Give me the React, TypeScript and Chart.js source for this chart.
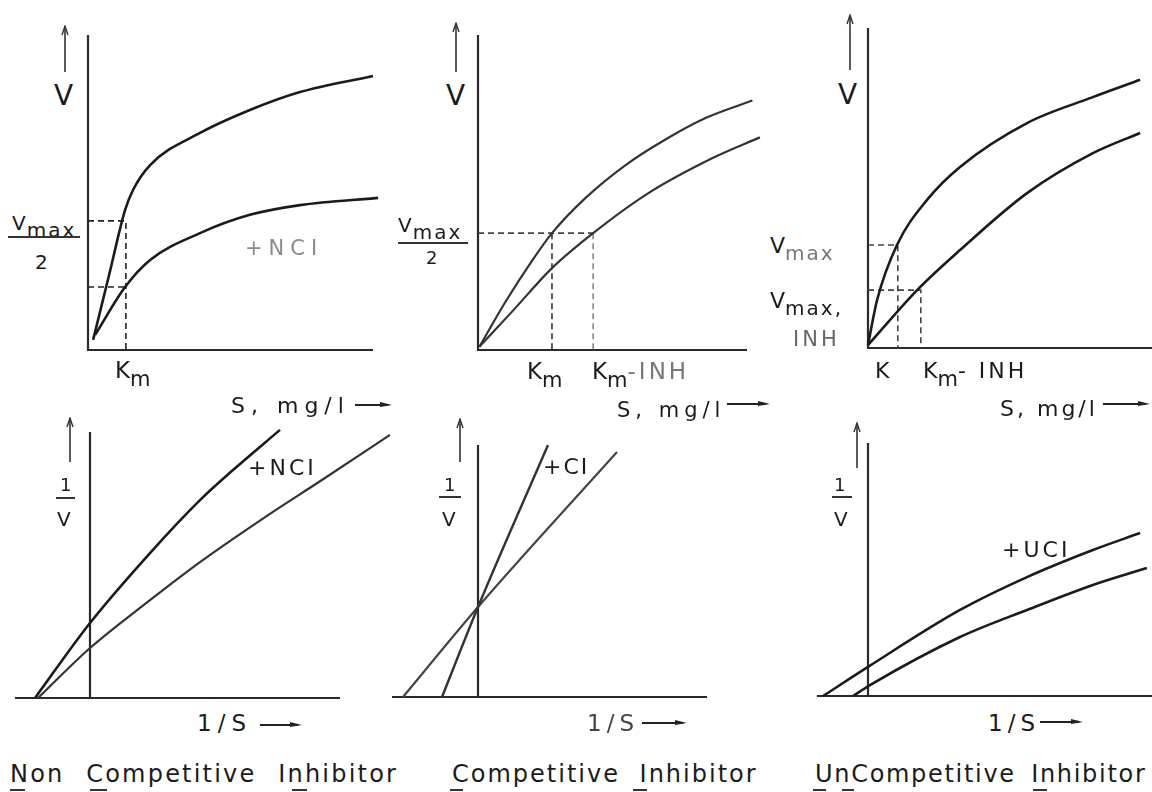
import React, { useEffect, useRef } from "react";
import { Chart, registerables } from "chart.js";

Chart.register(...registerables);

// ================= DATA (arbitrary units, axis length = 10) =================
// 1. Non-competitive inhibition, V vs S
const ncS = [0.18, 0.74, 1.3, 1.58, 2.18, 3.93, 5.68, 7.44, 10.0];
const ncV = [0.32, 2.38, 4.44, 5.08, 5.87, 6.89, 7.62, 8.19, 8.7];
const ncInhS = [0.25, 1.3, 2.18, 3.93, 5.68, 7.44, 10.18];
const ncInhV = [0.48, 2.0, 2.86, 3.71, 4.29, 4.6, 4.83];
const ncKm = 1.33;
const ncHalfVmax = [4.1, 2.0];

// 2. Competitive inhibition, V vs S
const ciS = [0.05, 1.0, 2.0, 2.75, 4.0, 5.5, 7.0, 8.5, 10.2];
const ciV = [0.1, 1.5, 2.82, 3.71, 4.83, 5.88, 6.7, 7.38, 7.92];
const ciInhS = [0.05, 1.3, 2.75, 4.28, 6.28, 8.74, 10.48];
const ciInhV = [0.1, 1.25, 2.6, 3.71, 4.95, 6.1, 6.75];
const ciKm = [2.75, 4.28];
const ciHalfVmax = 3.71;

// 3. Uncompetitive inhibition, V vs S
const ucS = [0, 0.32, 1.02, 2.08, 3.24, 5.6, 7.92, 9.58];
const ucV = [0.09, 1.5, 3.22, 4.63, 5.66, 7.03, 7.84, 8.38];
const ucInhS = [0, 1.73, 3.24, 5.6, 7.92, 9.58];
const ucInhV = [0.09, 1.81, 3.06, 4.84, 6.09, 6.72];
const ucK = [1.05, 1.86];
const ucVmarks = [3.22, 1.81];

// 4. Non-competitive, double reciprocal (1/V vs 1/S)
const ncLbInhX = [-2.2, 0, 2.4, 4.4, 5.72, 7.6];
const ncLbInhY = [0, 2.82, 5.45, 7.44, 8.57, 10.08];
const ncLbX = [-2.08, 0, 2.4, 4.4, 7.08, 9.2, 12.0];
const ncLbY = [0, 1.88, 3.68, 5.11, 6.85, 8.15, 9.89];

// 5. Competitive, double reciprocal
const ciLbInhX = [-1.44, 0, 2.8];
const ciLbInhY = [0, 3.57, 10.0];
const ciLbX = [-3.0, 0, 5.56];
const ciLbY = [0, 3.57, 9.72];

// 6. Uncompetitive, double reciprocal
const ucLbInhX = [-1.58, 0, 3.24, 5.6, 7.92, 9.58];
const ucLbInhY = [0, 1.15, 3.4, 4.7, 5.77, 6.44];
const ucLbX = [-0.53, 0.07, 3.24, 5.6, 7.92, 9.82];
const ucLbY = [0, 0.43, 2.33, 3.4, 4.39, 5.06];

// ================= helpers =================
const INK = "#1b1b1b";
const pts = (xs: number[], ys: number[]) => xs.map((x, i) => ({ x, y: ys[i] }));
const curve = (xs: number[], ys: number[], color = INK, width = 2.6) => ({
  data: pts(xs, ys),
  borderColor: color,
  borderWidth: width,
  pointRadius: 0,
  cubicInterpolationMode: "monotone",
  fill: false,
});
const dashed = (p: { x: number; y: number }[], color = "#222") => ({
  data: p,
  borderColor: color,
  borderWidth: 1.6,
  borderDash: [6, 4],
  pointRadius: 0,
  tension: 0,
  fill: false,
});

const axisPlugin = {
  id: "crossAxes",
  beforeDatasetsDraw(chart: any, _a: any, opts: any) {
    const { ctx, scales } = chart;
    const x = scales.x, y = scales.y;
    const x0 = x.getPixelForValue(0);
    const y0 = y.getPixelForValue(0);
    ctx.save();
    ctx.strokeStyle = opts.color || "#2a2a2a";
    ctx.lineWidth = opts.width || 2.2;
    ctx.beginPath();
    ctx.moveTo(x.getPixelForValue(opts.xFrom), y0);
    ctx.lineTo(x.getPixelForValue(opts.xTo), y0);
    ctx.moveTo(x0, y0 + 1);
    ctx.lineTo(x0, y.getPixelForValue(opts.yTo));
    ctx.stroke();
    ctx.restore();
  },
};

type Rect = { left: number; top: number; width: number; height: number };

function Panel(props: {
  rect: Rect;
  origin: [number, number];
  unit: [number, number];
  axisX: [number, number];
  axisY: number;
  datasets: any[];
}) {
  const ref = useRef<HTMLCanvasElement>(null);
  useEffect(() => {
    const { rect, origin, unit, axisX, axisY, datasets } = props;
    const xMin = (rect.left - origin[0]) / unit[0];
    const xMax = (rect.left + rect.width - origin[0]) / unit[0];
    const yMax = (origin[1] - rect.top) / unit[1];
    const yMin = (origin[1] - rect.top - rect.height) / unit[1];
    const chart = new Chart(ref.current as HTMLCanvasElement, {
      type: "line",
      data: { datasets },
      options: {
        animation: false,
        responsive: false,
        maintainAspectRatio: false,
        events: [],
        layout: { padding: 0 },
        scales: {
          x: { type: "linear", display: false, min: xMin, max: xMax },
          y: { type: "linear", display: false, min: yMin, max: yMax },
        },
        plugins: {
          legend: { display: false },
          tooltip: { enabled: false },
          crossAxes: { xFrom: axisX[0], xTo: axisX[1], yTo: axisY },
        } as any,
      },
      plugins: [axisPlugin],
    } as any);
    return () => chart.destroy();
  }, []);
  const r = props.rect;
  return (
    <canvas
      ref={ref}
      width={r.width}
      height={r.height}
      style={{ position: "absolute", left: r.left, top: r.top, width: r.width, height: r.height }}
    />
  );
}

// text placed by cap-top
function T(p: { x: number; y: number; s: number; c?: string; ls?: number; ws?: number; children: any }) {
  return (
    <div
      style={{
        position: "absolute",
        left: p.x,
        top: p.y - 0.117 * p.s,
        fontSize: p.s,
        lineHeight: 1,
        whiteSpace: "pre",
        color: p.c || INK,
        letterSpacing: p.ls ?? 0,
        wordSpacing: p.ws ?? 0,
      }}
    >
      {p.children}
    </div>
  );
}
const Sub = (p: { s: number; dy: number; c?: string; ls?: number; children: any }) => (
  <span style={{ fontSize: p.s, position: "relative", top: p.dy, color: p.c, letterSpacing: p.ls }}>{p.children}</span>
);

function UpArrow({ x, y1, y2 }: { x: number; y1: number; y2: number }) {
  const h = y2 - y1;
  return (
    <svg style={{ position: "absolute", left: x - 6, top: y1 }} width={12} height={h}>
      <line x1={6} y1={2} x2={6} y2={h} stroke="#333" strokeWidth={1.6} />
      <path d="M3,10 L6,1 L9,10" fill="none" stroke="#333" strokeWidth={1.4} />
    </svg>
  );
}
function RightArrow({ x1, x2, y }: { x1: number; x2: number; y: number }) {
  const w = x2 - x1;
  return (
    <svg style={{ position: "absolute", left: x1, top: y - 5 }} width={w} height={10}>
      <line x1={0} y1={5} x2={w - 4} y2={5} stroke="#222" strokeWidth={1.8} />
      <path d={`M${w - 12},2 L${w},5 L${w - 12},7 Z`} fill="#222" />
    </svg>
  );
}
function HLine({ x1, x2, y, w = 2 }: { x1: number; x2: number; y: number; w?: number }) {
  return <div style={{ position: "absolute", left: x1, top: y - w / 2, width: x2 - x1, height: w, background: "#333" }} />;
}

export default function App() {
  const p1 = [
    curve(ncS, ncV),
    curve(ncInhS, ncInhV),
    dashed([{ x: 0, y: ncHalfVmax[0] }, { x: ncKm, y: ncHalfVmax[0] }, { x: ncKm, y: 0 }]),
    dashed([{ x: 0, y: ncHalfVmax[1] }, { x: ncKm, y: ncHalfVmax[1] }]),
  ];
  const p2 = [
    curve(ciS, ciV, "#333", 2.2),
    curve(ciInhS, ciInhV, "#333", 2.2),
    dashed([{ x: 0, y: ciHalfVmax }, { x: ciKm[1], y: ciHalfVmax }], "#444"),
    dashed([{ x: ciKm[0], y: ciHalfVmax }, { x: ciKm[0], y: 0 }], "#333"),
    dashed([{ x: ciKm[1], y: ciHalfVmax }, { x: ciKm[1], y: 0 }], "#888"),
  ];
  const p3 = [
    curve(ucS, ucV),
    curve(ucInhS, ucInhV),
    dashed([{ x: 0, y: ucVmarks[0] }, { x: ucK[0], y: ucVmarks[0] }, { x: ucK[0], y: 0 }], "#444"),
    dashed([{ x: 0, y: ucVmarks[1] }, { x: ucK[1], y: ucVmarks[1] }, { x: ucK[1], y: 0 }], "#444"),
  ];
  const p4 = [curve(ncLbInhX, ncLbInhY, INK, 2.6), curve(ncLbX, ncLbY, "#333", 2.2)];
  const p5 = [curve(ciLbInhX, ciLbInhY, "#333", 2.4), curve(ciLbX, ciLbY, "#444", 2.2)];
  const p6 = [curve(ucLbInhX, ucLbInhY, INK, 2.6), curve(ucLbX, ucLbY, INK, 2.6)];

  const underlines: [number, number][] = [
    [10, 25], [90, 107], [292, 307], [450, 463], [633, 647], [813, 826], [842, 854], [1033, 1047],
  ];

  return (
    <div
      style={{
        position: "fixed",
        left: 0,
        top: 0,
        width: 1152,
        height: 792,
        background: "#fff",
        overflow: "hidden",
        fontFamily: '"DejaVu Sans", sans-serif',
        color: INK,
      }}
    >
      <Panel rect={{ left: 80, top: 20, width: 312, height: 345 }} origin={[88, 350]} unit={[28.5, 31.5]} axisX={[0, 10]} axisY={10} datasets={p1} />
      <Panel rect={{ left: 470, top: 20, width: 300, height: 345 }} origin={[478, 350]} unit={[26.9, 31.5]} axisX={[0, 10]} axisY={10} datasets={p2} />
      <Panel rect={{ left: 860, top: 15, width: 292, height: 345 }} origin={[868, 348]} unit={[28.4, 32]} axisX={[0, 10.2]} axisY={10} datasets={p3} />
      <Panel rect={{ left: 10, top: 425, width: 390, height: 285 }} origin={[90, 698]} unit={[25, 26.6]} axisX={[-3, 10]} axisY={10} datasets={p4} />
      <Panel rect={{ left: 385, top: 435, width: 340, height: 275 }} origin={[478, 697]} unit={[25, 25.2]} axisX={[-3.44, 9.16]} axisY={10} datasets={p5} />
      <Panel rect={{ left: 810, top: 435, width: 342, height: 275 }} origin={[868, 696]} unit={[28.4, 25.3]} axisX={[-1.8, 10.2]} axisY={10} datasets={p6} />

      {/* ---- Panel 1 labels ---- */}
      <UpArrow x={65} y1={25} y2={72} />
      <T x={54} y={85} s={28}>V</T>
      <T x={12} y={215} s={20} ls={1}>V<Sub s={20} dy={7} ls={2}>max</Sub></T>
      <HLine x1={8} x2={80} y={237} />
      <T x={35} y={254} s={20}>2</T>
      <T x={245} y={240} s={21} c="#8a8a8a" ls={6}>+NCI</T>
      <T x={115} y={362} s={23}>K<Sub s={21} dy={8}>m</Sub></T>
      <T x={231} y={398} s={22} ls={6}>S, mg/l</T>
      <RightArrow x1={355} x2={392} y={405} />

      {/* ---- Panel 2 labels ---- */}
      <UpArrow x={456} y1={22} y2={72} />
      <T x={446} y={85} s={28}>V</T>
      <T x={398} y={217} s={20} ls={1}>V<Sub s={20} dy={7} ls={2}>max</Sub></T>
      <HLine x1={398} x2={468} y={243} w={1.5} />
      <T x={426} y={251} s={18}>2</T>
      <T x={527} y={363} s={23}>K<Sub s={21} dy={8}>m</Sub></T>
      <T x={592} y={363} s={23}>K<Sub s={21} dy={8}>m</Sub><span style={{ color: "#777", letterSpacing: 3 }}>-INH</span></T>
      <T x={617} y={402} s={21} ls={5}>S, mg/l</T>
      <RightArrow x1={727} x2={770} y={404} />

      {/* ---- Panel 3 labels ---- */}
      <UpArrow x={850} y1={14} y2={70} />
      <T x={838} y={84} s={28}>V</T>
      <T x={770} y={238} s={22}>V<Sub s={20} dy={7} c="#777" ls={2}>max</Sub></T>
      <T x={770} y={293} s={22}>V<Sub s={20} dy={7} ls={2}>max,</Sub></T>
      <T x={793} y={331} s={21} c="#666" ls={3}>INH</T>
      <T x={875} y={363} s={22}>K</T>
      <T x={923} y={363} s={22}>K<Sub s={21} dy={8}>m</Sub><span style={{ letterSpacing: 3 }}>- INH</span></T>
      <T x={1000} y={401} s={22} ls={3}>S, mg/l</T>
      <RightArrow x1={1103} x2={1150} y={404} />

      {/* ---- Panel 4 labels ---- */}
      <UpArrow x={70} y1={417} y2={462} />
      <T x={60} y={478} s={18}>1</T>
      <HLine x1={56} x2={75} y={498} w={1.5} />
      <T x={57} y={511} s={20}>V</T>
      <T x={248} y={460} s={22} ls={3}>+NCI</T>
      <T x={197} y={715} s={23} ls={6}>1/S</T>
      <RightArrow x1={260} x2={302} y={725} />
      <T x={10} y={765} s={24} ls={2.2} ws={12}>Non Competitive Inhibitor</T>

      {/* ---- Panel 5 labels ---- */}
      <UpArrow x={460} y1={418} y2={462} />
      <T x={444} y={478} s={18}>1</T>
      <HLine x1={439} x2={461} y={497} w={1.5} />
      <T x={442} y={511} s={20}>V</T>
      <T x={543} y={459} s={22} ls={2}>+CI</T>
      <T x={587} y={715} s={23} ls={5} c="#444">1/S</T>
      <RightArrow x1={642} x2={687} y={723} />
      <T x={452} y={765} s={24} ls={2.0} ws={10}>Competitive Inhibitor</T>

      {/* ---- Panel 6 labels ---- */}
      <UpArrow x={857} y1={422} y2={468} />
      <T x={834} y={478} s={18}>1</T>
      <HLine x1={832} x2={852} y={497} w={1.5} />
      <T x={834} y={511} s={20}>V</T>
      <T x={1002} y={542} s={22} ls={3}>+UCI</T>
      <T x={988} y={715} s={23} ls={5}>1/S</T>
      <RightArrow x1={1040} x2={1083} y={722} />
      <T x={815} y={765} s={24} ls={1.7} ws={6}>UnCompetitive Inhibitor</T>

      {underlines.map(([a, b], i) => (
        <HLine key={i} x1={a} x2={b} y={790} w={2} />
      ))}
    </div>
  );
}
